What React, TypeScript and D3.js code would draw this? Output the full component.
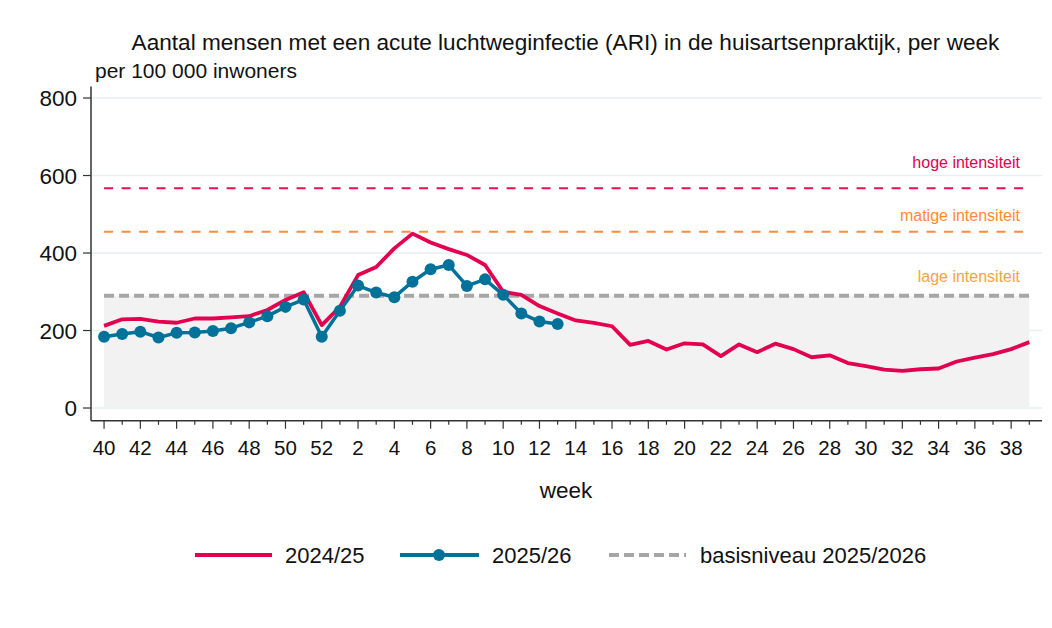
import * as d3 from "d3";

// weeks of the season: 40..52, 1..39
const weeks = [
  40, 41, 42, 43, 44, 45, 46, 47, 48, 49, 50, 51, 52,
  1, 2, 3, 4, 5, 6, 7, 8, 9, 10, 11, 12, 13, 14, 15, 16, 17, 18, 19, 20,
  21, 22, 23, 24, 25, 26, 27, 28, 29, 30, 31, 32, 33, 34, 35, 36, 37, 38, 39,
];

const season2425 = [
  212, 229, 230, 223, 220, 231, 231, 234, 237, 253, 279, 299, 214,
  261, 343, 364, 412, 450, 427, 410, 395, 369, 300, 292, 263, 244, 226,
  220, 211, 163, 173, 151, 167, 164, 134, 164, 144, 166, 152, 131, 136,
  116, 108, 99, 96, 100, 102, 120, 130, 139, 152, 170,
];

const season2526 = [
  184, 191, 197, 182, 194, 195, 199, 206, 221, 237, 261, 280, 184,
  251, 316, 298, 286, 326, 358, 369, 315, 332, 292, 244, 223, 217,
];

const baseline = 290;
const thresholds = [
  { label: "hoge intensiteit", value: 567, line: "#e8104f", text: "#e0004d", dy: -20 },
  { label: "matige intensiteit", value: 455, line: "#ff8c3a", text: "#ff8a33", dy: -11 },
];
const lowLabel = "lage intensiteit";
const yTicks = [0, 200, 400, 600, 800];

const RED = "#e3004f";
const BLUE = "#00729a";
const GRAY = "#a6a6a6";
const FONT = "'Liberation Sans', Arial, sans-serif";

export default function App() {
  const width = 1052;
  const height = 628;

  const x = d3.scaleLinear().domain([-0.72, 51.7]).range([91, 1042]);
  const y = d3.scaleLinear().domain([-33, 830]).range([420.8, 86.4]);

  const idx = weeks.map((_, i) => i);
  const last = weeks.length - 1;

  const line = d3
    .line<number>()
    .x((_, i) => x(i))
    .y((d) => y(d));

  const area = d3
    .area<number>()
    .x((i) => x(i))
    .y0(y(0))
    .y1(y(baseline));

  return (
    <svg
      width={width}
      height={height}
      style={{ position: "absolute", left: 0, top: 0, background: "#fff" }}
      fontFamily={FONT}
    >
      {/* titles */}
      <text x={565.5} y={50} textAnchor="middle" fontSize={22.6} fill="#111">
        Aantal mensen met een acute luchtweginfectie (ARI) in de huisartsenpraktijk, per week
      </text>
      <text x={95} y={78} fontSize={21} fill="#111">
        per 100 000 inwoners
      </text>

      {/* grid */}
      {yTicks.map((t) => (
        <line key={"g" + t} x1={x(-0.72)} x2={x(51.7)} y1={y(t)} y2={y(t)} stroke="#e6eff2" strokeWidth={1.5} />
      ))}

      {/* baseline band */}
      <path d={area(idx) || ""} fill="#f2f2f2" />

      {/* thresholds */}
      {thresholds.map((t) => (
        <g key={t.label}>
          <line x1={x(0)} x2={x(last)} y1={y(t.value)} y2={y(t.value)} stroke={t.line} strokeWidth={2} strokeDasharray="9,8.5" />
          <text x={1020} y={y(t.value) + t.dy} textAnchor="end" fontSize={16} fill={t.text}>
            {t.label}
          </text>
        </g>
      ))}
      <text x={1020} y={y(baseline) - 13.5} textAnchor="end" fontSize={16} fill="#f7a43c">
        {lowLabel}
      </text>
      <line x1={x(0)} x2={x(last)} y1={y(baseline)} y2={y(baseline)} stroke={GRAY} strokeWidth={4} strokeDasharray="10,5" />

      {/* series */}
      <path d={line(season2425) || ""} fill="none" stroke={RED} strokeWidth={3.8} strokeLinejoin="round" />
      <path d={line(season2526) || ""} fill="none" stroke={BLUE} strokeWidth={3.5} strokeLinejoin="round" />
      {season2526.map((v, i) => (
        <circle key={"p" + i} cx={x(i)} cy={y(v)} r={6} fill={BLUE} />
      ))}

      {/* y axis */}
      <line x1={x(-0.72)} x2={x(-0.72)} y1={y(830)} y2={y(-33)} stroke="#333" strokeWidth={1.5} />
      {yTicks.map((t) => (
        <g key={"y" + t}>
          <line x1={x(-0.72) - 8} x2={x(-0.72)} y1={y(t)} y2={y(t)} stroke="#333" strokeWidth={1.2} />
          <text x={77} y={y(t) + 8} textAnchor="end" fontSize={22.5} fill="#111">
            {t}
          </text>
        </g>
      ))}

      {/* x axis */}
      <line x1={x(-0.72)} x2={x(51.7)} y1={y(-33)} y2={y(-33)} stroke="#333" strokeWidth={1.5} />
      {weeks.map((w, i) => (
        <g key={"x" + i}>
          <line x1={x(i)} x2={x(i)} y1={y(-33)} y2={y(-33) + (i % 2 === 0 ? 8 : 4)} stroke="#333" strokeWidth={1.2} />
          {i % 2 === 0 && (
            <text x={x(i)} y={455} textAnchor="middle" fontSize={20.5} fill="#111">
              {w}
            </text>
          )}
        </g>
      ))}
      <text x={566} y={498} textAnchor="middle" fontSize={22.5} fill="#111">
        week
      </text>

      {/* legend */}
      <line x1={195} x2={272} y1={555} y2={555} stroke={RED} strokeWidth={4} />
      <text x={285} y={563} fontSize={22} fill="#111">2024/25</text>
      <line x1={400} x2={479} y1={555} y2={555} stroke={BLUE} strokeWidth={4} />
      <circle cx={439} cy={555} r={6} fill={BLUE} />
      <text x={492} y={563} fontSize={22} fill="#111">2025/26</text>
      <line x1={609} x2={686} y1={555} y2={555} stroke={GRAY} strokeWidth={4} strokeDasharray="10,5" />
      <text x={700} y={563} fontSize={22} fill="#111">basisniveau 2025/2026</text>
    </svg>
  );
}
